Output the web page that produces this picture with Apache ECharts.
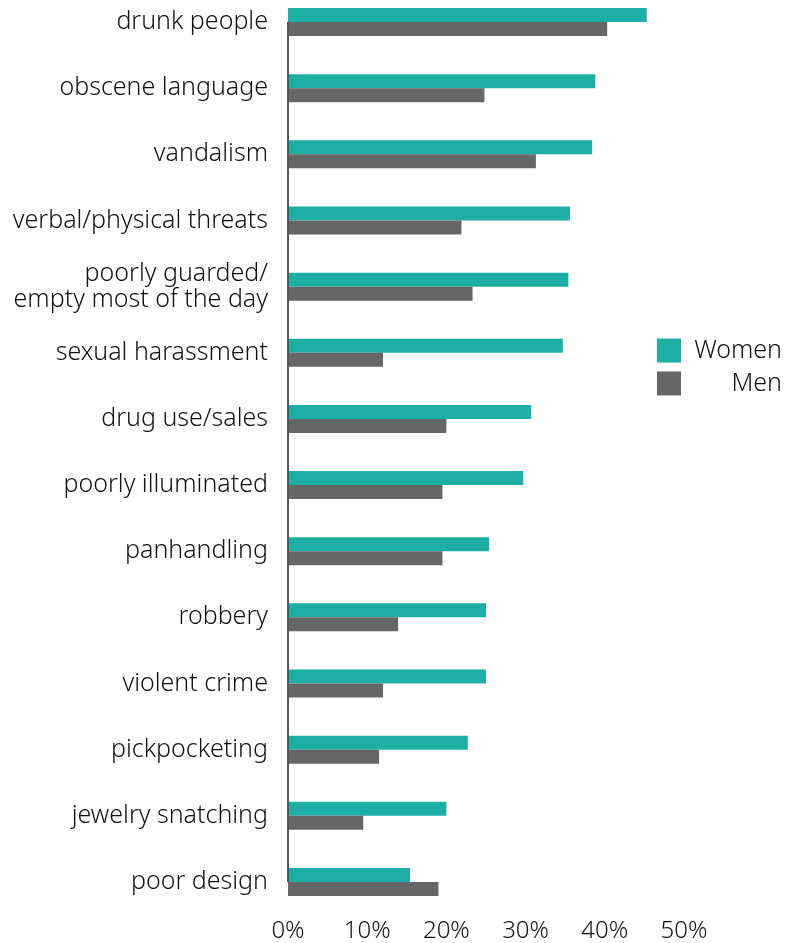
<!DOCTYPE html>
<html>
<head>
<meta charset="utf-8">
<script src="https://cdn.jsdelivr.net/npm/echarts@6/dist/echarts.min.js"></script>
<style>
html,body{margin:0;padding:0;background:#fff;overflow:hidden;}
#chart{width:796px;height:954px;margin-top:-11px;}
</style>
</head>
<body>
<div id="chart"></div>
<script>
const categories = [
  "drunk people",
  "obscene language",
  "vandalism",
  "verbal/physical threats",
  "poorly guarded/\nempty most of the day",
  "sexual harassment",
  "drug use/sales",
  "poorly illuminated",
  "panhandling",
  "robbery",
  "violent crime",
  "pickpocketing",
  "jewelry snatching",
  "poor design"
];
const women = [45.3, 38.8, 38.4, 35.6, 35.4, 34.7, 30.7, 29.7, 25.4, 25.0, 25.0, 22.7, 20.0, 15.4];
const men   = [40.3, 24.8, 31.3, 21.9, 23.3, 12.0, 20.0, 19.5, 19.5, 13.9, 12.0, 11.5,  9.5, 19.0];
const xTicks = [0, 10, 20, 30, 40, 50];

const FONT = 'Noto Sans';
const FS = 25;
const FW = 300;
const TC = '#111';
const chart = echarts.init(document.getElementById('chart'), null, {renderer: 'canvas'});
chart.setOption({
  animation: false,
  backgroundColor: '#ffffff',
  grid: {left: 288, right: 112, top: 0, bottom: 28, containLabel: false},
  legend: {
    data: ['Women', 'Men'],
    orient: 'vertical',
    left: 657, top: 349, padding: 0,
    itemWidth: 24, itemHeight: 24, itemGap: 8,
    icon: 'rect',
    formatter: name => '{a|' + name + '}',
    textStyle: {
      fontFamily: FONT, fontSize: FS, fontWeight: FW, color: TC,
      rich: {a: {width: 96, align: 'right', fontFamily: FONT, fontSize: FS, fontWeight: FW, color: TC}}
    }
  },
  xAxis: {
    type: 'value',
    min: xTicks[0], max: xTicks[xTicks.length - 1], interval: 10,
    axisLine: {show: false}, axisTick: {show: false}, splitLine: {show: false},
    axisLabel: {formatter: v => v + '%', fontFamily: FONT, fontSize: 24, fontWeight: FW, color: TC, margin: 4}
  },
  yAxis: {
    type: 'category', inverse: true, data: categories,
    axisLine: {show: false},
    axisTick: {show: false},
    axisLabel: {fontFamily: FONT, fontSize: FS, fontWeight: FW, color: TC, margin: 20, lineHeight: 26, align: 'right', padding: [6, 0, 0, 0]}
  },
  series: [
    {
      name: 'axisLine', type: 'line', data: [], z: 1, silent: true,
      markLine: {
        silent: true, symbol: ['none', 'none'], label: {show: false},
        lineStyle: {color: '#555', width: 2, type: 'solid'},
        data: [[{coord: [0, 0]}, {coord: [0, categories.length - 1]}]]
      }
    },
    {name: 'Women', type: 'bar', data: women, barWidth: 14, barGap: '0%', z: 3, itemStyle: {color: '#1DAFA6'}},
    {name: 'Men', type: 'bar', data: men, barWidth: 14, barGap: '0%', z: 3, itemStyle: {color: '#666666'}}
  ]
});
</script>
</body>
</html>
